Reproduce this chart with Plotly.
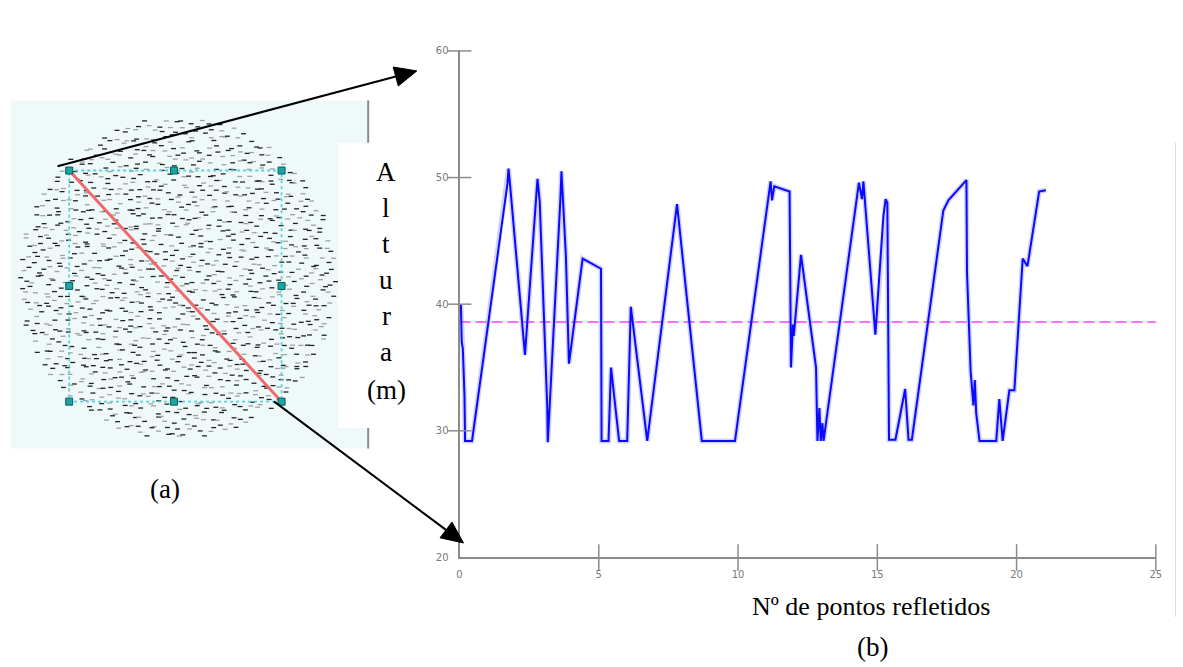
import math
import plotly.graph_objects as go

W, H = 1183, 667

# Height profile along the transect (x = number of reflected points, y = height in m)
profile_x = [0.05, 0.08, 0.12, 0.18, 0.2, 0.45, 1.72, 1.76, 1.82, 2.35, 2.8, 2.88, 3.15, 3.17,
             3.62, 3.66, 3.72, 3.82, 3.93, 4.42, 5.08, 5.1, 5.35, 5.44, 5.73, 6.02, 6.15, 6.74,
             7.81, 8.7, 9.89, 11.17, 11.22, 11.3, 11.85, 11.9, 11.97, 12.0, 12.26, 12.8, 12.85,
             12.92, 12.97, 13.03, 13.07, 14.34, 14.45, 14.5, 14.93, 15.18, 15.22, 15.3, 15.36,
             15.42, 15.65, 16.0, 16.12, 16.24, 17.37, 17.55, 18.2, 18.22, 18.35, 18.45, 18.5,
             18.55, 18.67, 19.27, 19.38, 19.5, 19.74, 19.92, 20.22, 20.39, 20.81, 21.05]
profile_y = [40.0, 37.0, 36.5, 32.7, 29.2, 29.2, 49.5, 50.7, 49.3, 36.0, 49.9, 48.1, 31.9, 29.1,
             48.2, 50.5, 48.0, 43.8, 35.3, 43.6, 42.8, 29.2, 29.2, 35.0, 29.2, 29.2, 39.8, 29.2,
             47.9, 29.2, 29.2, 49.7, 48.2, 49.3, 48.9, 35.0, 38.4, 37.5, 43.9, 35.0, 29.2,
             31.8, 29.2, 30.6, 29.2, 49.6, 48.3, 49.7, 37.6, 45.5, 47.0, 48.3, 48.0,
             29.3, 29.3, 33.3, 29.3, 29.3, 47.4, 48.2, 49.8, 42.5, 34.7, 32.0, 34.0,
             31.4, 29.2, 29.2, 32.5, 29.2, 33.2, 33.2, 43.6, 43.0, 48.9, 49.0]
mean_height = 38.6

x_ticks = [0, 5, 10, 15, 20, 25]
y_ticks = [20, 30, 40, 50, 60]

x_title = "Nº de pontos refletidos"
y_title_letters = ["A", "l", "t", "u", "r", "a", "(m)"]
panel_labels = ["(a)", "(b)"]

AXIS_GREY = "#8c8c8c"
SERIF = "Liberation Serif, Times New Roman, serif"

fig = go.Figure()

# ---- panel (b): height profile -------------------------------------------------
fig.add_trace(go.Scatter(x=[0, 25], y=[mean_height, mean_height], mode="lines",
                         line=dict(color="#ff3cff", width=1.5, dash="11px,5px"),
                         hoverinfo="skip", showlegend=False))
fig.add_trace(go.Scatter(x=profile_x, y=profile_y, mode="lines",
                         line=dict(color="rgba(90,90,255,0.28)", width=5),
                         hoverinfo="skip", showlegend=False))
fig.add_trace(go.Scatter(x=profile_x, y=profile_y, mode="lines",
                         line=dict(color="#0a0aff", width=2), showlegend=False))

# tick marks crossing the axis lines
fig.add_trace(go.Scatter(x=[0] * (len(y_ticks) - 1), y=y_ticks[1:], mode="markers",
                         marker=dict(symbol="line-ew", size=17,
                                     line=dict(color=AXIS_GREY, width=1.5)),
                         cliponaxis=False, hoverinfo="skip", showlegend=False))
fig.add_trace(go.Scatter(x=x_ticks[1:], y=[20] * (len(x_ticks) - 1), mode="markers",
                         marker=dict(symbol="line-ns", size=19,
                                     line=dict(color=AXIS_GREY, width=1.5)),
                         cliponaxis=False, hoverinfo="skip", showlegend=False))

# ---- panel (a): footprint of the laser scan (pixel space axes x2/y2) -----------
def halton(i, b):
    f, r = 1.0, 0.0
    while i > 0:
        f /= b
        r += f * (i % b)
        i //= b
    return r

cx, cy, rx, ry = 176, 278, 160, 164
cloud_x, cloud_y, cloud_c = [], [], []
for i in range(1, 1301):
    r = math.sqrt(halton(i, 2))
    t = 2 * math.pi * halton(i, 3)
    cloud_x.append(cx + rx * r * math.cos(t))
    cloud_y.append(cy + ry * r * math.sin(t))
    cloud_c.append("#222222" if halton(i, 5) < 0.6 else "#a0a0a0")

fig.add_trace(go.Scatter(x=cloud_x, y=cloud_y, mode="markers", xaxis="x2", yaxis="y2",
                         marker=dict(symbol="line-ew", size=3.5,
                                     line=dict(color=cloud_c, width=1.3)),
                         hoverinfo="skip", showlegend=False))

sq_x = [66.7, 172.3, 280.7]
sq_y = [168.3, 285.7, 403.3]
fig.add_trace(go.Scatter(x=[sq_x[0], sq_x[2], sq_x[2], sq_x[0], sq_x[0]],
                         y=[sq_y[0], sq_y[0], sq_y[2], sq_y[2], sq_y[0]],
                         mode="lines", xaxis="x2", yaxis="y2",
                         line=dict(color="#5ad2e0", width=1.8, dash="dot"),
                         hoverinfo="skip", showlegend=False))
fig.add_trace(go.Scatter(x=[sq_x[0], sq_x[2]], y=[sq_y[0], sq_y[2]], mode="lines",
                         xaxis="x2", yaxis="y2", line=dict(color="#ef6b6b", width=3),
                         hoverinfo="skip", showlegend=False))
hx, hy = [], []
for j, yy in enumerate(sq_y):
    for k, xx in enumerate(sq_x):
        if j == 1 and k == 1:
            continue
        hx.append(xx)
        hy.append(yy)
fig.add_trace(go.Scatter(x=hx, y=hy, mode="markers", xaxis="x2", yaxis="y2",
                         marker=dict(symbol="square", size=7, color="#1fa3a3",
                                     line=dict(color="#0b5e5e", width=1)),
                         hoverinfo="skip", showlegend=False))

shapes = [
    dict(type="rect", xref="x2", yref="y2", x0=8, x1=368, y0=97, y1=451,
         fillcolor="#eff9f9", line=dict(width=0), layer="below"),
    dict(type="rect", xref="x2", yref="y2", x0=338, x1=422, y0=140, y1=430,
         fillcolor="white", line=dict(width=0), layer="below"),
    dict(type="line", xref="x2", yref="y2", x0=368, x1=368, y0=97, y1=140,
         line=dict(color="#8a8a8a", width=2)),
    dict(type="line", xref="x2", yref="y2", x0=368, x1=368, y0=430, y1=451,
         line=dict(color="#8a8a8a", width=2)),
    dict(type="line", xref="x2", yref="y2", x0=1181.5, x1=1181.5, y0=140, y1=622,
         line=dict(color="#dddddd", width=1)),
]


def arrow(x0, y0, x1, y1, head_len=22, head_w=20):
    dx, dy = x1 - x0, y1 - y0
    n = math.hypot(dx, dy)
    ux, uy = dx / n, dy / n
    bx, by = x1 - head_len * ux, y1 - head_len * uy
    px, py = -uy * head_w / 2, ux * head_w / 2
    return [
        dict(type="line", xref="x2", yref="y2", x0=x0, y0=y0, x1=bx + 2 * ux, y1=by + 2 * uy,
             line=dict(color="black", width=2)),
        dict(type="path", xref="x2", yref="y2",
             path=f"M{x1},{y1} L{bx + px},{by + py} L{bx - px},{by - py} Z",
             fillcolor="black", line=dict(color="black", width=1)),
    ]


shapes += arrow(55, 164, 417, 67)
shapes += arrow(273, 403, 464, 547)

annotations = []
for letter, yy in zip(y_title_letters, [170, 206.7, 243, 280, 316.7, 353, 391.7]):
    annotations.append(dict(xref="x2", yref="y2", x=386, y=yy, text=letter, showarrow=False,
                            font=dict(family=SERIF, size=27, color="black")))
annotations.append(dict(xref="x2", yref="y2", x=163, y=492, text=panel_labels[0],
                        showarrow=False, font=dict(family=SERIF, size=27, color="black")))
annotations.append(dict(xref="x2", yref="y2", x=875, y=612, text=x_title,
                        showarrow=False, font=dict(family=SERIF, size=26, color="black")))
annotations.append(dict(xref="x2", yref="y2", x=876, y=653, text=panel_labels[1],
                        showarrow=False, font=dict(family=SERIF, size=27, color="black")))

axis_style = dict(showline=True, linecolor=AXIS_GREY, linewidth=2, showgrid=False,
                  zeroline=False, ticks="outside", ticklen=7, tickcolor="rgba(0,0,0,0)",
                  tickfont=dict(family="DejaVu Sans, sans-serif", size=10, color="#7a7a7a"),
                  fixedrange=True)

fig.update_layout(
    width=W, height=H,
    margin=dict(l=0, r=0, t=0, b=0),
    paper_bgcolor="white", plot_bgcolor="rgba(0,0,0,0)",
    xaxis=dict(domain=[460 / W, 1161.7 / W], range=[0, 25], tickvals=x_ticks,
               anchor="y", **axis_style),
    yaxis=dict(domain=[1 - 561.7 / H, 1 - 46.7 / H], range=[20, 60], tickvals=y_ticks,
               anchor="x", **axis_style),
    xaxis2=dict(domain=[0, 1], range=[0, W], visible=False, anchor="y2", fixedrange=True),
    yaxis2=dict(domain=[0, 1], range=[H, 0], visible=False, anchor="x2", fixedrange=True),
    shapes=shapes,
    annotations=annotations,
    showlegend=False,
)

fig.write_html("out.html")
